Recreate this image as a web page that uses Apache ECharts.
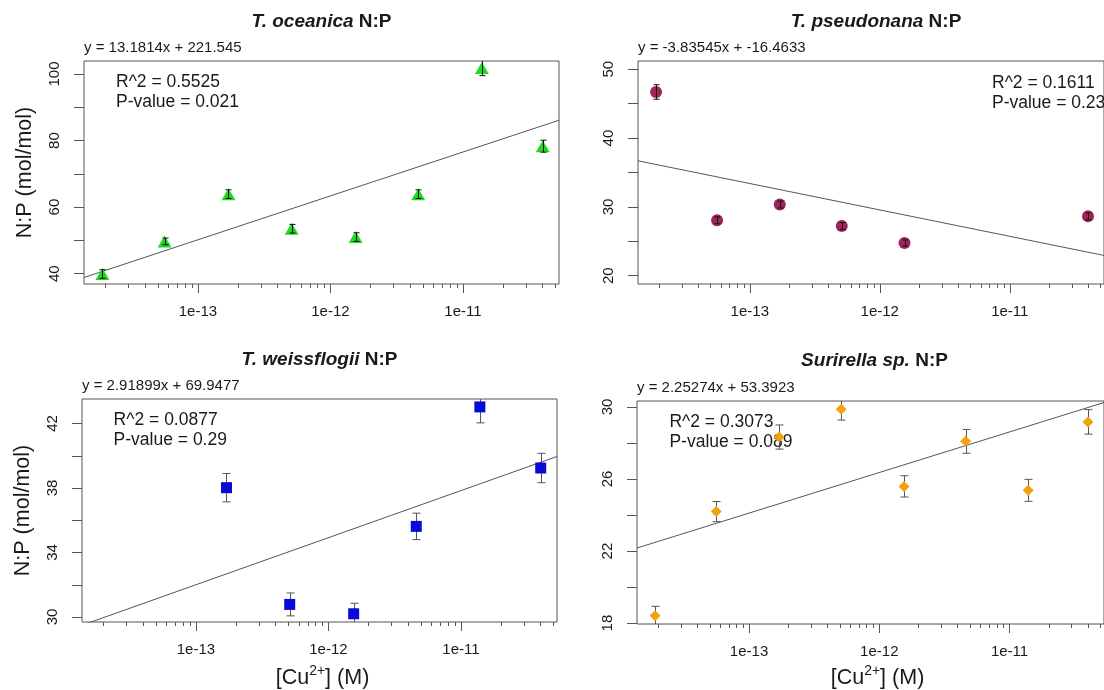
<!DOCTYPE html>
<html><head><meta charset="utf-8">
<script src="https://cdn.jsdelivr.net/npm/echarts@6/dist/echarts.min.js"></script>
<style>html,body{margin:0;padding:0;background:#fff}#c{width:1104px;height:690px}</style>
</head><body><div id="c"></div>
<script>
// ---------------- data ----------------
const cuLevels = [1.9e-14, 5.6e-14, 1.7e-13, 5.1e-13, 1.55e-12, 4.6e-12, 1.39e-11, 4.0e-11];
const oceanicaNP = [39.9, 49.7, 63.9, 53.5, 51.0, 63.9, 101.8, 78.3];
const oceanicaErr = [1.3, 1.0, 1.3, 1.3, 1.3, 1.3, 2.3, 1.8];
const pseudonanaNP = [46.7, 28.05, 30.34, 27.23, 24.75, null, null, 28.64];
const pseudonanaErr = [1.05, 0.5, 0.5, 0.5, 0.45, null, null, 0.5];
const weissflogiiNP = [null, null, 38.02, 30.78, 30.2, 35.62, 43.03, 39.24];
const weissflogiiErr = [null, null, 0.88, 0.71, 0.65, 0.82, 0.99, 0.91];
const surirellaNP = [18.41, 24.19, 28.33, 29.87, 25.59, 28.09, 25.37, 29.17];
const surirellaErr = [0.52, 0.56, 0.67, 0.6, 0.59, 0.66, 0.61, 0.68];
const speciesNames = ['T. oceanica', 'T. pseudonana', 'T. weissflogii', 'Surirella sp.'];
const fitSlope = [13.1814, -3.83545, 2.91899, 2.25274];
const fitIntercept = [221.545, -16.4633, 69.9477, 53.3923];
const equationTexts = ['y = 13.1814x + 221.545', 'y = -3.83545x + -16.4633', 'y = 2.91899x + 69.9477', 'y = 2.25274x + 53.3923'];
const rSquaredTexts = ['0.5525', '0.1611', '0.0877', '0.3073'];
const pValueTexts = ['0.021', '0.23', '0.29', '0.089'];
const xRange = [1.38e-14, 5.31e-11];
const xMajorTicks = [1e-13, 1e-12, 1e-11];
const xMajorLabels = ['1e-13', '1e-12', '1e-11'];
const yRanges = [[36.9, 103.9], [18.8, 51.2], [29.69, 43.52], [17.95, 30.33]];
const yTickValues = [[40, 50, 60, 70, 80, 90, 100], [20, 25, 30, 35, 40, 45, 50], [30, 32, 34, 36, 38, 40, 42], [18, 20, 22, 24, 26, 28, 30]];
const yLabelValues = [[40, 60, 80, 100], [20, 30, 40, 50], [30, 34, 38, 42], [18, 22, 26, 30]];
const yAxisTitle = 'N:P (mol/mol)';

// ---------------- styles / layout ----------------
const FONT = '"Liberation Sans", Arial, Helvetica, sans-serif';
const TXT = '#1a1a1a';
const AX = '#555';
const npSets = [oceanicaNP, pseudonanaNP, weissflogiiNP, surirellaNP];
const errSets = [oceanicaErr, pseudonanaErr, weissflogiiErr, surirellaErr];
const grids = [
  {left: 84, top: 61, width: 475, height: 223},
  {left: 638, top: 61, width: 475, height: 223},
  {left: 82, top: 399, width: 475, height: 223},
  {left: 637, top: 401, width: 475, height: 223}
];
const markStyles = [
  {symbol: 'triangle', size: [14, 12], color: '#22D822', bar: '#111', cap: 3, zErr: 5},
  {symbol: 'circle', size: 12, color: '#A0245A', bar: '#111', cap: 3, zErr: 5},
  {symbol: 'rect', size: 11, color: '#0A0AD8', bar: '#555', cap: 4, zErr: 2},
  {symbol: 'diamond', size: 11, color: '#F2A20C', bar: '#555', cap: 4, zErr: 2}
];
const titlePos = [[321.5, 22], [876, 22], [319.5, 360], [874.5, 361]];
const statPos = [[116, 81.7], [992, 82.7], [113.6, 420], [669.4, 421.7]];

const xMinorTicks = [];
for (let e = -14; e <= -11; e++) {
  for (let k = 2; k <= 9; k++) {
    const v = k * Math.pow(10, e);
    if (v > xRange[0] && v < xRange[1]) xMinorTicks.push(v);
  }
}
const lg = Math.log10;

function errRender(cap, color) {
  return function (params, api) {
    const x = api.value(0), lo = api.value(1), hi = api.value(2);
    const a = api.coord([x, lo]), b = api.coord([x, hi]);
    const px = Math.round(a[0]) + 0.5;
    const st = {stroke: color, lineWidth: 1};
    return {type: 'group', children: [
      {type: 'line', shape: {x1: px, y1: a[1], x2: px, y2: b[1]}, style: st},
      {type: 'line', shape: {x1: px - cap, y1: a[1], x2: px + cap, y2: a[1]}, style: st},
      {type: 'line', shape: {x1: px - cap, y1: b[1], x2: px + cap, y2: b[1]}, style: st}
    ]};
  };
}

const xAxis = [], yAxis = [], series = [], graphic = [];
grids.forEach((g, i) => {
  g.show = true; g.borderColor = AX; g.borderWidth = 1; g.containLabel = false;
  xAxis.push({type: 'log', logBase: 10, gridIndex: i, min: xRange[0], max: xRange[1], show: false});
  xAxis.push({
    type: 'value', gridIndex: i, min: lg(xRange[0]), max: lg(xRange[1]), position: 'bottom',
    axisLine: {show: false}, splitLine: {show: false},
    axisTick: {show: true, length: 9, lineStyle: {color: AX}, customValues: xMajorTicks.map(lg)},
    axisLabel: {show: true, margin: 20, fontSize: 15, color: TXT, fontFamily: FONT,
      customValues: xMajorTicks.map(lg),
      formatter: v => xMajorLabels[xMajorTicks.findIndex(t => Math.abs(lg(t) - v) < 1e-6)] || ''}
  });
  xAxis.push({
    type: 'value', gridIndex: i, min: lg(xRange[0]), max: lg(xRange[1]), position: 'bottom',
    axisLine: {show: false}, splitLine: {show: false},
    axisTick: {show: true, length: 4, lineStyle: {color: AX}, customValues: xMinorTicks.map(lg)},
    axisLabel: {show: false}
  });
  yAxis.push({
    type: 'value', gridIndex: i, min: yRanges[i][0], max: yRanges[i][1],
    axisLine: {show: false}, splitLine: {show: false},
    axisTick: {show: true, length: 10, lineStyle: {color: AX}, customValues: yTickValues[i]},
    axisLabel: {rotate: 90, margin: 22, fontSize: 15, color: TXT, fontFamily: FONT, customValues: yLabelValues[i]},
    name: i % 2 === 0 ? yAxisTitle : '', nameLocation: 'middle', nameRotate: 90, nameGap: 48,
    nameTextStyle: {fontSize: 21.5, color: TXT, fontFamily: FONT}
  });
  const ms = markStyles[i];
  const pts = [], errs = [];
  cuLevels.forEach((cu, k) => {
    const v = npSets[i][k];
    if (v == null) return;
    pts.push([cu, v]);
    errs.push([cu, v - errSets[i][k], v + errSets[i][k]]);
  });
  series.push({
    type: 'line', xAxisIndex: 3 * i, yAxisIndex: i, symbol: 'none', silent: true, clip: true, z: 1,
    lineStyle: {color: '#555', width: 1},
    data: xRange.map(x => [x, fitSlope[i] * lg(x) + fitIntercept[i]])
  });
  series.push({
    type: 'scatter', xAxisIndex: 3 * i, yAxisIndex: i, symbol: ms.symbol, symbolSize: ms.size, z: 3,
    itemStyle: {color: ms.color, opacity: 1}, data: pts
  });
  series.push({
    type: 'custom', xAxisIndex: 3 * i, yAxisIndex: i, clip: true, z: ms.zErr, silent: true,
    renderItem: errRender(ms.cap, ms.bar), data: errs
  });
  // title
  graphic.push({type: 'text', x: titlePos[i][0], y: titlePos[i][1], silent: true, style: {
    text: '{i|' + speciesNames[i] + '}{b| N:P}', align: 'center', verticalAlign: 'middle', fill: TXT,
    font: 'bold 19px ' + FONT,
    rich: {i: {fontStyle: 'italic', fontWeight: 'bold', fontSize: 19, fontFamily: FONT, fill: TXT},
           b: {fontWeight: 'bold', fontSize: 19, fontFamily: FONT, fill: TXT}}
  }});
  // equation
  graphic.push({type: 'text', x: g.left, y: g.top - 13.5, silent: true, style: {
    text: equationTexts[i], align: 'left', verticalAlign: 'middle', fill: TXT, font: '15px ' + FONT
  }});
  // stats
  graphic.push({type: 'text', x: statPos[i][0], y: statPos[i][1], silent: true, style: {
    text: 'R^2 = ' + rSquaredTexts[i], align: 'left', verticalAlign: 'middle', fill: TXT, font: '17.5px ' + FONT
  }});
  graphic.push({type: 'text', x: statPos[i][0], y: statPos[i][1] + 20.5, silent: true, style: {
    text: 'P-value = ' + pValueTexts[i], align: 'left', verticalAlign: 'middle', fill: TXT, font: '17.5px ' + FONT
  }});
  // x axis title (bottom row)
  if (i >= 2) {
    graphic.push({type: 'text', x: g.left + g.width / 2 + 3, y: 678, silent: true, style: {
      text: '{n|[Cu}{s|2+}{n|] (M)}', align: 'center', verticalAlign: 'middle', fill: TXT,
      font: '21.5px ' + FONT,
      rich: {n: {fontSize: 21.5, fontFamily: FONT, fill: TXT, lineHeight: 30, verticalAlign: 'middle'},
             s: {fontSize: 14, fontFamily: FONT, fill: TXT, lineHeight: 16, verticalAlign: 'middle', padding: [0, 0, 14, 0]}}
    }});
  }
});

const chart = echarts.init(document.getElementById('c'), null, {renderer: 'canvas'});
chart.setOption({
  animation: false,
  backgroundColor: '#ffffff',
  grid: grids, xAxis: xAxis, yAxis: yAxis, series: series, graphic: graphic
});
</script>
</body></html>
